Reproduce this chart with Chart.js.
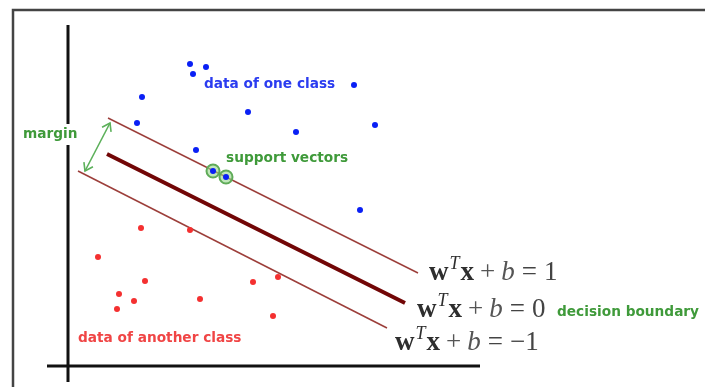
<!DOCTYPE html>
<html>
<head>
<meta charset="utf-8">
<script src="https://cdn.jsdelivr.net/npm/chart.js@4/dist/chart.umd.min.js"></script>
<style>
  html, body { margin: 0; padding: 0; background: #fff; }
  #wrap { width: 705px; height: 387px; }
</style>
</head>
<body>
<div id="wrap"><canvas id="c" width="705" height="387"></canvas></div>
<script>
// ---- data (abstract coordinates: origin at the axis crossing) ----
const classOneX = [12.2, 13.8, 12.5, 28.6, 7.4, 18.0, 6.9, 30.7, 22.8, 12.8, 14.5, 15.8, 29.2];
const classOneY = [30.2, 29.9, 29.2, 28.1, 26.9, 25.4, 24.3, 24.1, 23.4, 21.6, 19.5, 18.9, 15.6];
const classTwoX = [7.3, 12.2, 3.0, 7.7, 18.5, 21.0, 5.1, 6.6, 13.2, 4.9, 20.5];
const classTwoY = [13.8, 13.6, 10.9, 8.5, 8.4, 8.9, 7.2, 6.5, 6.7, 5.7, 5.0];
const supportX = [14.5, 15.8];
const supportY = [19.5, 18.9];
const upperLineX = [4.0, 35.0];
const upperLineY = [24.8, 9.3];
const boundaryX = [3.9, 33.7];
const boundaryY = [21.2, 6.3];
const lowerLineX = [1.0, 31.9];
const lowerLineY = [19.5, 3.8];
const marginArrowX = [4.2, 1.7];
const marginArrowY = [24.3, 19.5];
const yAxisX = [0, 0];
const yAxisY = [34.1, -1.6];
const xAxisX = [-2.1, 41.2];
const xAxisY = [0, 0];
const frameX = [-5.5, -5.5, 70];
const frameY = [-5, 35.6, 35.6];
const textLabels = ['data of one class', 'support vectors', 'margin', 'data of another class', 'decision boundary'];
const textX = [13.6, 15.8, -4.5, 1.0, 48.9];
const textY = [28.2, 20.8, 23.2, 2.8, 5.4];
const equationRhs = ['1', '0', '\u22121'];
const equationX = [36.1, 34.9, 32.7];
const equationY = [8.6, 4.9, 1.6];

const pts = (xs, ys) => xs.map((x, i) => ({ x: x, y: ys[i] }));

const BLUE = '#0a20f5';
const RED = '#f43030';
const GREEN = '#3f9a3a';
const textColors = ['#2b3cf0', GREEN, GREEN, '#f04545', GREEN];

function lineDs(data, color, width, order) {
  return { data: data, showLine: true, borderColor: color, borderWidth: width,
           pointRadius: 0, fill: false, order: order, borderCapStyle: 'butt' };
}

const labelPlugin = {
  id: 'labels',
  afterDatasetsDraw(chart) {
    const ctx = chart.ctx;
    const sx = chart.scales.x, sy = chart.scales.y;
    // margin arrow heads
    const a0 = { x: sx.getPixelForValue(marginArrowX[0]), y: sy.getPixelForValue(marginArrowY[0]) };
    const a1 = { x: sx.getPixelForValue(marginArrowX[1]), y: sy.getPixelForValue(marginArrowY[1]) };
    const head = (tip, from) => {
      const ang = Math.atan2(tip.y - from.y, tip.x - from.x);
      const L = 9, spread = 0.6;
      ctx.beginPath();
      ctx.moveTo(tip.x - L * Math.cos(ang - spread), tip.y - L * Math.sin(ang - spread));
      ctx.lineTo(tip.x, tip.y);
      ctx.lineTo(tip.x - L * Math.cos(ang + spread), tip.y - L * Math.sin(ang + spread));
      ctx.stroke();
    };
    ctx.save();
    ctx.strokeStyle = '#5cb05a';
    ctx.lineWidth = 1.6;
    head(a0, a1); head(a1, a0);
    ctx.restore();

    // text labels
    ctx.save();
    ctx.textBaseline = 'middle';
    ctx.textAlign = 'left';
    ctx.font = 'bold 13.7px "DejaVu Sans", "Liberation Sans", sans-serif';
    textLabels.forEach((t, i) => {
      const px = sx.getPixelForValue(textX[i]);
      const py = sy.getPixelForValue(textY[i]);
      const w = ctx.measureText(t).width;
      if (t === 'margin') {
        ctx.fillStyle = '#fff';
        ctx.fillRect(px - 2, py - 10, w + 4, 21);
      }
      ctx.fillStyle = textColors[i];
      ctx.fillText(t, px, py);
    });
    ctx.restore();

    // equations
    const serif = '"Liberation Serif", "DejaVu Serif", serif';
    const size = 27;
    ctx.save();
    ctx.textBaseline = 'alphabetic';
    ctx.textAlign = 'left';
    equationRhs.forEach((rhs, i) => {
      let x = sx.getPixelForValue(equationX[i]);
      const y = sy.getPixelForValue(equationY[i]);
      const put = (txt, font, color, dy, extra) => {
        ctx.font = font;
        ctx.fillStyle = color;
        ctx.fillText(txt, x, y + (dy || 0));
        x += ctx.measureText(txt).width + (extra || 0);
      };
      const reg = size + 'px ' + serif;
      put('w', 'bold ' + size + 'px ' + serif, '#2e2e2e', 0, 1);
      put('T', 'italic ' + Math.round(size * 0.68) + 'px ' + serif, '#2e2e2e', -size * 0.42, 1);
      put('x', 'bold ' + size + 'px ' + serif, '#2e2e2e', 0, 6);
      put('+', reg, '#555', 0, 6);
      put('b', 'italic ' + size + 'px ' + serif, '#555', 0, 7);
      put('=', reg, '#444', 0, 7);
      put(rhs, reg, '#444', 0, 0);
    });
    ctx.restore();
  }
};

new Chart(document.getElementById('c'), {
  type: 'scatter',
  data: {
    datasets: [
      { data: pts(classOneX, classOneY), backgroundColor: BLUE, borderColor: BLUE, pointRadius: 3, borderWidth: 0, order: 1 },
      { data: pts(classTwoX, classTwoY), backgroundColor: RED, borderColor: RED, pointRadius: 3, borderWidth: 0, order: 2 },
      { data: pts(supportX, supportY), backgroundColor: 'rgba(150,215,140,0.6)', borderColor: '#5fab58', pointRadius: 6.5, borderWidth: 2, order: 3 },
      lineDs(pts(marginArrowX, marginArrowY), '#5cb05a', 1.6, 4),
      lineDs(pts(boundaryX, boundaryY), '#720606', 4, 5),
      lineDs(pts(upperLineX, upperLineY), '#9c3e3a', 1.5, 6),
      lineDs(pts(lowerLineX, lowerLineY), '#9c3e3a', 1.5, 7),
      lineDs(pts(yAxisX, yAxisY), '#111', 3, 8),
      lineDs(pts(xAxisX, xAxisY), '#111', 3, 9),
      lineDs(pts(frameX, frameY), '#444', 2.5, 10)
    ]
  },
  options: {
    responsive: false,
    animation: false,
    events: [],
    layout: { padding: 0, autoPadding: false },
    scales: {
      x: { type: 'linear', min: -6.8, max: 63.7, display: false },
      y: { type: 'linear', min: -2.1, max: 36.6, display: false }
    },
    plugins: { legend: { display: false }, tooltip: { enabled: false }, title: { display: false } }
  },
  plugins: [labelPlugin]
});
</script>
</body>
</html>
